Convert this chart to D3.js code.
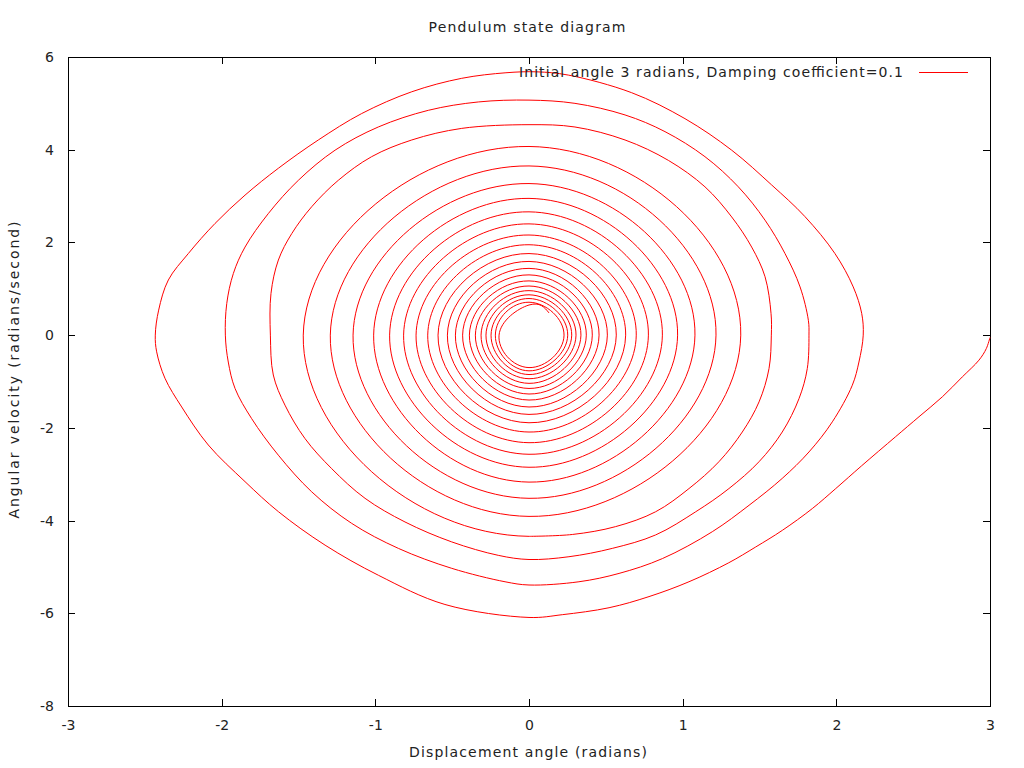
<!DOCTYPE html>
<html><head><meta charset="utf-8">
<script src="https://cdn.jsdelivr.net/npm/d3@7"></script>
<style>
body{margin:0;background:#fff}
text{font-family:"DejaVu Sans",sans-serif;font-size:14px;fill:#222}
</style>
</head><body>
<svg id="chart" width="1024" height="768"></svg>
<script>
// ---- data ----
const titleText = "Pendulum state diagram";
const seriesName = "Initial angle 3 radians, Damping coefficient=0.1";
const xLabel = "Displacement angle (radians)";
const yLabel = "Angular velocity (radians/second)";
const xTicks = [-3,-2,-1,0,1,2,3];
const yTicks = [6,4,2,0,-2,-4,-6,-8];

// first turns, traced point by point (angle, velocity)
const outerAngle = [3.0,2.976,2.928,2.82,2.69,2.538,2.386,2.164,1.996,1.844,1.649,1.475,1.30,1.041,0.781,0.521,0.217,0.0,
 -0.547,-0.98,-1.327,-1.63,-1.848,-2.087,-2.26,-2.369,-2.423,-2.432,
 -2.41,-2.347,-2.217,-2.043,-1.848,-1.631,-1.371,-1.089,-0.763,-0.438,-0.15,0.05,
 0.256,0.668,1.015,1.319,1.579,1.795,1.991,2.11,2.165,2.175,
 2.147,2.104,1.974,1.822,1.648,1.432,1.193,0.868,0.586,0.325,0.0,
 -0.156,-0.503,-0.85,-1.154,-1.414,-1.631,-1.805,-1.913,-1.957,-1.976,
 -1.967,-1.924,-1.848,-1.697,-1.501,-1.262,-0.981,-0.655,-0.33,0.0,
 0.299,0.625,0.885,1.145,1.362,1.536,1.666,1.764,1.818,1.822,
 1.811,1.757,1.648,1.497,1.301,1.085,0.824,0.542,0.26,0.0,
 -0.2,-0.503,-0.807,-1.067,-1.284,-1.458,-1.588,-1.664,-1.683,
 -1.679,-1.631,-1.544,-1.414,-1.241,-1.024,-0.763,-0.438,0.0,
 0.299,0.625,0.907,1.145,1.319,1.449,1.536,1.575,1.577,
 1.562,1.497,1.388,1.236,1.041,0.824,0.564,0.282,0.0];
const outerVelocity = [-0.05,-0.29,-0.54,-0.90,-1.33,-1.76,-2.19,-2.82,-3.31,-3.74,-4.21,-4.57,-4.91,-5.32,-5.64,-5.88,-6.03,-6.09,
 -5.81,-5.18,-4.53,-3.81,-3.16,-2.37,-1.55,-0.93,-0.36,0.0,
 0.54,1.19,1.76,2.41,3.02,3.60,4.21,4.78,5.25,5.54,5.66,5.68,
 5.61,5.23,4.67,3.99,3.24,2.56,1.76,1.04,0.47,0.0,
 -0.58,-1.08,-1.87,-2.52,-3.09,-3.67,-4.24,-4.82,-5.14,-5.32,-5.39,
 -5.32,-5.03,-4.60,-4.06,-3.38,-2.59,-1.80,-1.15,-0.58,0.0,
 0.68,1.33,1.90,2.62,3.34,3.99,4.49,4.85,5.03,5.07,
 5.00,4.75,4.39,3.85,3.20,2.48,1.76,1.04,0.32,0.0,
 -0.72,-1.37,-2.09,-2.73,-3.31,-3.81,-4.31,-4.60,-4.78,-4.84,
 -4.75,-4.46,-4.03,-3.52,-2.88,-2.23,-1.51,-0.86,0.0,
 0.90,1.62,2.19,2.77,3.34,3.85,4.21,4.46,4.54,
 4.49,4.21,3.77,3.20,2.55,1.90,1.26,0.47,0.0,
 -0.72,-1.44,-2.09,-2.73,-3.31,-3.81,-4.13,-4.30,-4.34];

// every turn: where the curve crosses the axes
const leftCrossAngle  = [-2.432,-1.976,-1.683,-1.469,-1.293,-1.145,-1.011,-0.907,-0.816,-0.735,-0.659,-0.592,-0.531,-0.479,-0.432,-0.388,-0.349,-0.312,-0.280,-0.247,-0.219,-0.195];
const topCrossVelocity = [5.68,5.07,4.54,4.07,3.65,3.27,2.95,2.66,2.40,2.16,1.95,1.76,1.59,1.44,1.30,1.17,1.06,0.96,0.87,0.79,0.71,0.65];
const rightCrossAngle = [2.171,1.822,1.573,1.378,1.217,1.080,0.967,0.868,0.777,0.698,0.629,0.568,0.510,0.456,0.412,0.373,0.338,0.306,0.278,0.252,0.228];
const bottomCrossVelocity = [-6.09,-5.39,-4.84,-4.34,-3.91,-3.52,-3.17,-2.85,-2.57,-2.32,-2.09,-1.89,-1.71,-1.55,-1.40,-1.27,-1.15,-1.04,-0.94,-0.85,-0.77,-0.70];
const startPoint = [3.0, 0.0];
const endPoint = [0.13, 0.48];

// ---- layout ----
const svg = d3.select("#chart");
const pL = 68, pR = 990, pT = 57, pB = 706;
const x = d3.scaleLinear().domain([-3,3]).range([pL,pR]);
const y = d3.scaleLinear().domain([-8,6]).range([pB,pT]);

svg.append("defs").append("clipPath").attr("id","plotclip")
  .append("rect").attr("x",pL).attr("y",pT-1).attr("width",pR-pL+1).attr("height",pB-pT+2);

const tickLen = 7;
const fmt = d => String(d);
const axB = d3.axisBottom(x).tickValues(xTicks).tickSizeInner(-tickLen).tickSizeOuter(0).tickPadding(14).tickFormat(fmt);
const axT = d3.axisTop(x).tickValues(xTicks).tickSizeInner(-tickLen).tickSizeOuter(0).tickFormat("");
const axL = d3.axisLeft(y).tickValues(yTicks).tickSizeInner(-tickLen).tickSizeOuter(0).tickPadding(14).tickFormat(fmt);
const axR = d3.axisRight(y).tickValues(yTicks).tickSizeInner(-tickLen).tickSizeOuter(0).tickFormat("");

function style(g){
  g.select(".domain").remove();
  g.selectAll(".tick line").attr("stroke","#000").attr("shape-rendering","crispEdges");
  g.selectAll(".tick text").attr("font-family","DejaVu Sans").attr("font-size",14).attr("fill","#222");
}
svg.append("g").attr("transform",`translate(0,${pB})`).call(axB).call(style);
svg.append("g").attr("transform",`translate(0,${pT})`).call(axT).call(style);
svg.append("g").attr("transform",`translate(${pL},0)`).call(axL).call(style);
svg.append("g").attr("transform",`translate(${pR},0)`).call(axR).call(style);

svg.append("rect").attr("x",pL+0.5).attr("y",pT+0.5).attr("width",pR-pL).attr("height",pB-pT)
  .attr("fill","none").attr("stroke","#000").attr("stroke-width",1).attr("shape-rendering","crispEdges");

// ---- the curve ----
const outerPts = outerAngle.map((a,i)=>[a, outerVelocity[i]]);
const knots = [startPoint, [0, bottomCrossVelocity[0]]];
for (let k=0;k<leftCrossAngle.length;k++){
  knots.push([leftCrossAngle[k],0]);
  knots.push([0,topCrossVelocity[k]]);
  if (k < rightCrossAngle.length) knots.push([rightCrossAngle[k],0]);
  if (k+1 < bottomCrossVelocity.length) knots.push([0,bottomCrossVelocity[k+1]]);
}
knots.push(endPoint);

const plot = svg.append("g").attr("clip-path","url(#plotclip)");
const lineOuter = d3.line().x(d=>x(d[0])).y(d=>y(d[1])).curve(d3.curveCatmullRom.alpha(0.5));
plot.append("path").attr("d",lineOuter(outerPts)).attr("fill","none").attr("stroke","#ff0000").attr("stroke-width",1);

function segmentsOf(pts){
  const segs=[]; let cur=null;
  const ctx={beginPath(){},closePath(){},
    moveTo(a,b){cur=[a,b];},
    lineTo(a,b){segs.push({from:cur,cmd:`L${a},${b}`});cur=[a,b];},
    bezierCurveTo(a,b,c,d,e,f){segs.push({from:cur,cmd:`C${a},${b},${c},${d},${e},${f}`});cur=[e,f];}};
  d3.line().x(d=>x(d[0])).y(d=>y(d[1])).curve(d3.curveNatural).context(ctx)(pts);
  return segs;
}
const firstKnot = 8;   // R2
const drawFrom = 13;   // B3
const segs = segmentsOf(knots.slice(firstKnot));
const skip = drawFrom - firstKnot;
const dInner = `M${segs[skip].from[0]},${segs[skip].from[1]}` + segs.slice(skip).map(s=>s.cmd).join("");
plot.append("path").attr("d",dInner).attr("fill","none").attr("stroke","#ff0000").attr("stroke-width",1);

// ---- texts ----
svg.append("text").attr("x",527).attr("y",32).attr("text-anchor","middle")
  .attr("textLength",197).attr("lengthAdjust","spacing").text(titleText);
svg.append("text").attr("x",528).attr("y",757).attr("text-anchor","middle")
  .attr("textLength",238).attr("lengthAdjust","spacing").text(xLabel);
svg.append("text").attr("transform","translate(19,370) rotate(-90)").attr("text-anchor","middle")
  .attr("textLength",297).attr("lengthAdjust","spacing").text(yLabel);
svg.append("text").attr("x",903).attr("y",77).attr("text-anchor","end")
  .attr("textLength",384).attr("lengthAdjust","spacing").text(seriesName);
svg.append("line").attr("x1",919).attr("x2",968).attr("y1",72.5).attr("y2",72.5)
  .attr("stroke","#ff0000").attr("stroke-width",1);
</script>
</body></html>
